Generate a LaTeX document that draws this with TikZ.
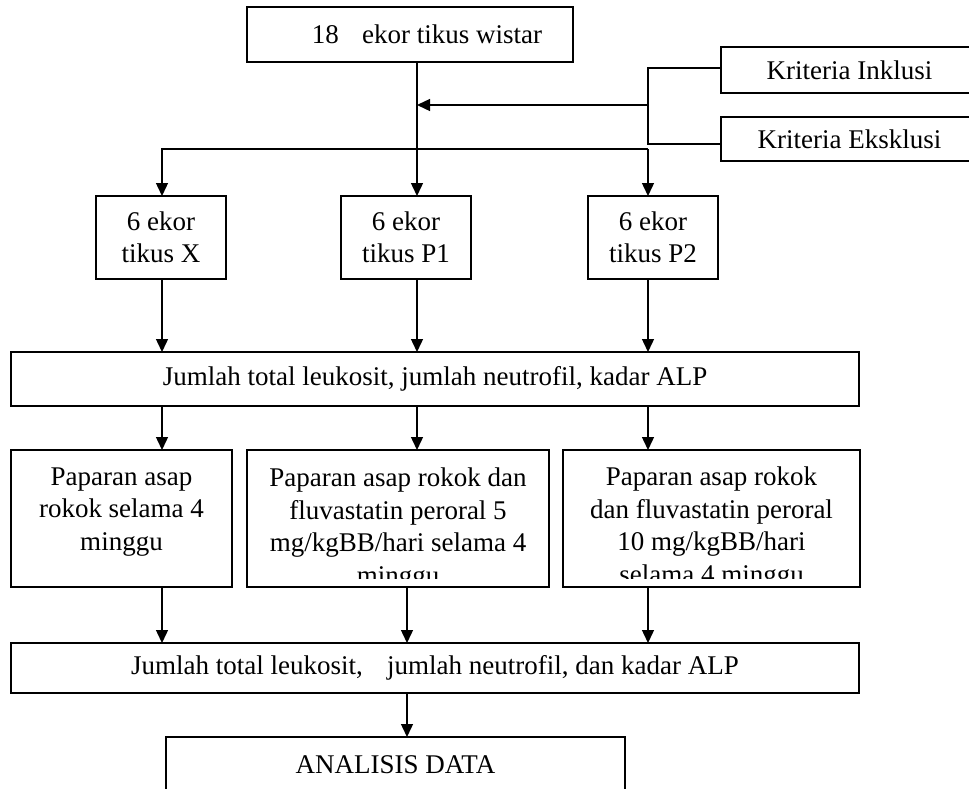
\documentclass[tikz,border=0pt]{standalone}
\usepackage{fontspec}
\setmainfont{Liberation Serif}
\usetikzlibrary{arrows.meta}
\begin{document}
\begin{tikzpicture}[x=1pt,y=-1pt,
  font=\fontsize{27}{32.5}\selectfont,
  box/.style={draw, line width=1.5pt, inner sep=0pt, outer sep=0pt},
  txt/.style={inner sep=0pt, align=center},
  conn/.style={line width=1.4pt, -{Triangle[length=13pt,width=12pt]}},
  plain/.style={line width=1.4pt}]
\clip (0,0) rectangle (969,788);
% column coordinates
\coordinate (c1) at (162,0);
\coordinate (c2) at (417,0);
\coordinate (c3) at (648,0);
\coordinate (c4) at (407,0);
\coordinate (br) at (0,149);
\coordinate (ar) at (0,105);
\coordinate (brk) at (648,0);
\coordinate (kin) at (721,68);
\coordinate (kek) at (721,144);
% boxes
\node[box, minimum width=326pt, minimum height=55pt] (top) at (410,34.5) {};
\node[txt] (toptext) at (427,34.5) {18\hspace{0.62em} ekor tikus wistar};
\node[box, minimum width=257pt, minimum height=46pt] (inkl) at (849.5,70) {Kriteria Inklusi};
\node[box, minimum width=257pt, minimum height=44pt] (eksk) at (849.5,139) {Kriteria Eksklusi};
\node[box, txt, minimum width=130pt, minimum height=83pt] (X) at (161,237.5) {6 ekor\\tikus X};
\node[box, txt, minimum width=130pt, minimum height=83pt] (P1) at (406,237.5) {6 ekor\\tikus P1};
\node[box, txt, minimum width=130pt, minimum height=83pt] (P2) at (653,237.5) {6 ekor\\tikus P2};
\node[box, minimum width=848pt, minimum height=54pt] (J1) at (435,379) {Jumlah total leukosit, jumlah neutrofil, kadar ALP};
\node[box, minimum width=221pt, minimum height=137pt] (A) at (121.5,518.5) {};
\node[txt] (Atext) at (121.5,512) {Paparan asap\\rokok selama 4\\minggu};
\node[box, minimum width=302pt, minimum height=137pt] (B) at (398,518.5) {};
\node[box, minimum width=297pt, minimum height=137pt] (C) at (711.5,518.5) {};
\begin{scope}
  \clip (247,451) rectangle (549,578);
  \node[txt] (Btext) at (398,529) {Paparan asap rokok dan\\fluvastatin peroral 5\\mg/kgBB/hari selama 4\\minggu};
\end{scope}
\begin{scope}
  \clip (563,451) rectangle (860,578);
  \node[txt] (Ctext) at (711.5,528) {Paparan asap rokok\\dan fluvastatin peroral\\10 mg/kgBB/hari\\selama 4 minggu};
\end{scope}
\node[box, minimum width=848pt, minimum height=50pt] (J2) at (435,668) {Jumlah total leukosit,\hspace{0.65em} jumlah neutrofil, dan kadar ALP};
\node[box, minimum width=459pt, minimum height=56pt] (AN) at (395.5,765) {ANALISIS DATA};
% connectors
\draw[conn] (top.south -| c2) -- (P1.north -| c2);
\draw[plain] (kin) -- (brk |- kin) -- (brk |- kek) -- (kek);
\draw[conn] (brk |- ar) -- (c2 |- ar);
\draw[conn] (c3 |- br) -- (c1 |- br) -- (X.north -| c1);
\draw[conn] (c3 |- br) -- (P2.north -| c3);
\draw[conn] (X.south -| c1) -- (J1.north -| c1);
\draw[conn] (P1.south -| c2) -- (J1.north -| c2);
\draw[conn] (P2.south -| c3) -- (J1.north -| c3);
\draw[conn] (J1.south -| c1) -- (A.north -| c1);
\draw[conn] (J1.south -| c2) -- (B.north -| c2);
\draw[conn] (J1.south -| c3) -- (C.north -| c3);
\draw[conn] (A.south -| c1) -- (J2.north -| c1);
\draw[conn] (B.south -| c4) -- (J2.north -| c4);
\draw[conn] (C.south -| c3) -- (J2.north -| c3);
\draw[conn] (J2.south -| c4) -- (AN.north -| c4);
\end{tikzpicture}
\end{document}
